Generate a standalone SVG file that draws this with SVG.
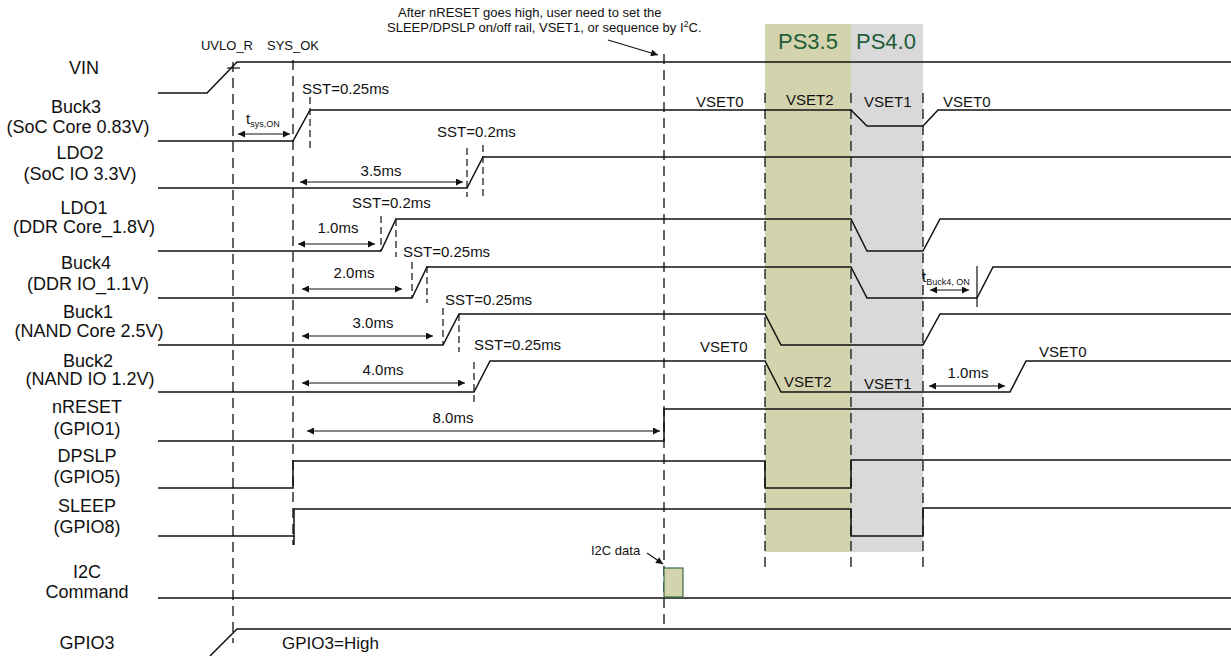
<svg xmlns="http://www.w3.org/2000/svg" width="1231" height="656" viewBox="0 0 1231 656">
<style>
text{font-family:"Liberation Sans",Arial,sans-serif;fill:#111}
.lbl{font-size:18px;text-anchor:middle}
.sm{font-size:15px}
.xs{font-size:13px}
.sub{font-size:9px}
.ps{font-size:22px;fill:#1f5c38}
.wave{fill:none;stroke:#111;stroke-width:1.5}
.dash{fill:none;stroke:#222;stroke-width:1.4;stroke-dasharray:10,6}
.sdash{fill:none;stroke:#222;stroke-width:1.3;stroke-dasharray:7,4}
.arr{fill:none;stroke:#111;stroke-width:1.1;marker-start:url(#ah);marker-end:url(#ah)}
.arr1{fill:none;stroke:#111;stroke-width:1.1;marker-end:url(#ah)}
</style>
<defs>
<marker id="ah" viewBox="0 0 10 10" refX="10" refY="5" markerWidth="8" markerHeight="7" markerUnits="userSpaceOnUse" orient="auto-start-reverse">
<path d="M0,0 L10,5 L0,10 z" fill="#111"/>
</marker>
</defs>

<g id="bands">
<rect x="765" y="24" width="86" height="528" fill="#d3d4ad"/>
<rect x="851" y="24" width="72" height="528" fill="#d9d9d9"/>
<text class="ps" x="778" y="49">PS3.5</text>
<text class="ps" x="856" y="49">PS4.0</text>
</g>

<g id="markers">
<text class="xs" x="227" y="50" text-anchor="middle">UVLO_R</text>
<text class="xs" x="293" y="50" text-anchor="middle">SYS_OK</text>
<text class="xs" x="398" y="17">After nRESET goes high, user need to set the</text>
<text class="xs" x="387" y="32">SLEEP/DPSLP on/off rail, VSET1, or sequence by I<tspan font-size="9px" dy="-5">2</tspan><tspan dy="5">C.</tspan></text>
</g>

<g id="connectors">
<path class="dash" d="M233,62 V643"/>
<path class="dash" d="M293,60 V545"/>
<path class="dash" d="M664,54 V625"/>
<path class="dash" d="M765,93 V568"/>
<path class="dash" d="M851,93 V568"/>
<path class="dash" d="M923,93 V568"/>
<path d="M227,68 H240" stroke="#111" stroke-width="1.2"/>
<path class="sdash" d="M310,97 V148"/>
<path class="sdash" d="M467,148 V197"/>
<path class="sdash" d="M483,145 V197"/>
<path class="sdash" d="M381,216 V251"/>
<path class="sdash" d="M396,219 V257"/>
<path class="sdash" d="M412,262 V298"/>
<path class="sdash" d="M427,266 V303"/>
<path class="sdash" d="M443,308 V345"/>
<path class="sdash" d="M459,314 V352"/>
<path class="sdash" d="M474,362 V402"/>
<path d="M977,266 V307" stroke="#111" stroke-width="1.2"/>
<path class="arr" d="M238,134 H290"/>
<path class="arr" d="M300,182 H463"/>
<path class="arr" d="M298,244 H375"/>
<path class="arr" d="M302,289 H402"/>
<path class="arr" d="M302,336 H433"/>
<path class="arr" d="M302,383 H465"/>
<path class="arr" d="M307,431 H660"/>
<path class="arr" d="M930,290 H969"/>
<path class="arr" d="M929,386 H1005"/>
<path class="arr1" d="M608,40 L658,55"/>
<path class="arr1" d="M647,553 L663,564"/>
</g>

<g id="VIN">
<text class="lbl" x="84" y="74">VIN</text>
<path class="wave" d="M158,93 L207,93 L237,62 L1231,62"/>
</g>

<g id="Buck3">
<text class="lbl" x="76" y="113">Buck3</text>
<text class="lbl" x="78" y="133">(SoC Core 0.83V)</text>
<path class="wave" d="M158,141 L293,141 L310,110 L851,110 L867,126 L923,126 L938,110 L1231,110"/>
<text class="sm" x="302" y="94">SST=0.25ms</text>
<text class="sm" x="246" y="124">t<tspan class="sub" dy="3">sys,ON</tspan></text>
<text class="sm" x="696" y="107">VSET0</text>
<text class="sm" x="786" y="105">VSET2</text>
<text class="sm" x="864" y="107">VSET1</text>
<text class="sm" x="943" y="107">VSET0</text>
</g>

<g id="LDO2">
<text class="lbl" x="80" y="159">LDO2</text>
<text class="lbl" x="80" y="180">(SoC IO 3.3V)</text>
<path class="wave" d="M158,188 L467,188 L483,157 L1231,157"/>
<text class="sm" x="437" y="137">SST=0.2ms</text>
<text class="sm" x="381" y="176" text-anchor="middle">3.5ms</text>
</g>

<g id="LDO1">
<text class="lbl" x="84" y="214">LDO1</text>
<text class="lbl" x="84" y="233">(DDR Core_1.8V)</text>
<path class="wave" d="M158,251 L381,251 L396,219 L851,219 L867,251 L923,251 L940,219 L1231,219"/>
<text class="sm" x="352" y="208">SST=0.2ms</text>
<text class="sm" x="338" y="233" text-anchor="middle">1.0ms</text>
</g>

<g id="Buck4">
<text class="lbl" x="86" y="269">Buck4</text>
<text class="lbl" x="88" y="290">(DDR IO_1.1V)</text>
<path class="wave" d="M158,298 L412,298 L427,267 L851,267 L867,298 L977,298 L993,267 L1231,267"/>
<text class="sm" x="403" y="257">SST=0.25ms</text>
<text class="sm" x="354" y="278" text-anchor="middle">2.0ms</text>
<text class="sm" x="922" y="282">t<tspan class="sub" dy="3">Buck4, ON</tspan></text>
</g>

<g id="Buck1">
<text class="lbl" x="88" y="318">Buck1</text>
<text class="lbl" x="89" y="337">(NAND Core 2.5V)</text>
<path class="wave" d="M158,345 L443,345 L459,314 L765,314 L781,345 L923,345 L940,314 L1231,314"/>
<text class="sm" x="445" y="305">SST=0.25ms</text>
<text class="sm" x="373" y="328" text-anchor="middle">3.0ms</text>
</g>

<g id="Buck2">
<text class="lbl" x="88" y="367">Buck2</text>
<text class="lbl" x="90" y="385">(NAND IO 1.2V)</text>
<path class="wave" d="M158,392 L474,392 L490,361 L765,361 L781,392 L1010,392 L1026,361 L1231,361"/>
<text class="sm" x="474" y="350">SST=0.25ms</text>
<text class="sm" x="383" y="375" text-anchor="middle">4.0ms</text>
<text class="sm" x="700" y="352">VSET0</text>
<text class="sm" x="784" y="387">VSET2</text>
<text class="sm" x="864" y="389">VSET1</text>
<text class="sm" x="968" y="378" text-anchor="middle">1.0ms</text>
<text class="sm" x="1039" y="357">VSET0</text>
</g>

<g id="nRESET">
<text class="lbl" x="87" y="413">nRESET</text>
<text class="lbl" x="87" y="435">(GPIO1)</text>
<path class="wave" d="M158,441 L664,441 L664,409 L1231,409"/>
<text class="sm" x="453" y="423" text-anchor="middle">8.0ms</text>
</g>

<g id="DPSLP">
<text class="lbl" x="87" y="462">DPSLP</text>
<text class="lbl" x="87" y="483">(GPIO5)</text>
<path class="wave" d="M158,488 L293,488 L293,461 L765,461 L765,488 L851,488 L851,460 L1231,460"/>
</g>

<g id="SLEEP">
<text class="lbl" x="87" y="512">SLEEP</text>
<text class="lbl" x="87" y="533">(GPIO8)</text>
<path class="wave" d="M158,536 L294,536 L294,509 L851,509 L851,536 L923,536 L923,508 L1231,508"/>
<path d="M294,536 V545" stroke="#111" stroke-width="1.5"/>
</g>

<g id="I2C">
<text class="lbl" x="87" y="578">I2C</text>
<text class="lbl" x="87" y="598">Command</text>
<path class="wave" d="M158,598 L1231,598"/>
<rect x="664" y="568" width="19" height="29" fill="#d3d4ad" stroke="#3d6b45" stroke-width="1.2"/>
<text class="xs" x="591" y="555">I2C data</text>
</g>

<g id="GPIO3">
<text class="lbl" x="87" y="649">GPIO3</text>
<path class="wave" d="M210,656 L237,629 L1231,629"/>
<text class="sm" x="282" y="649" style="font-size:17px">GPIO3=High</text>
</g>
</svg>
